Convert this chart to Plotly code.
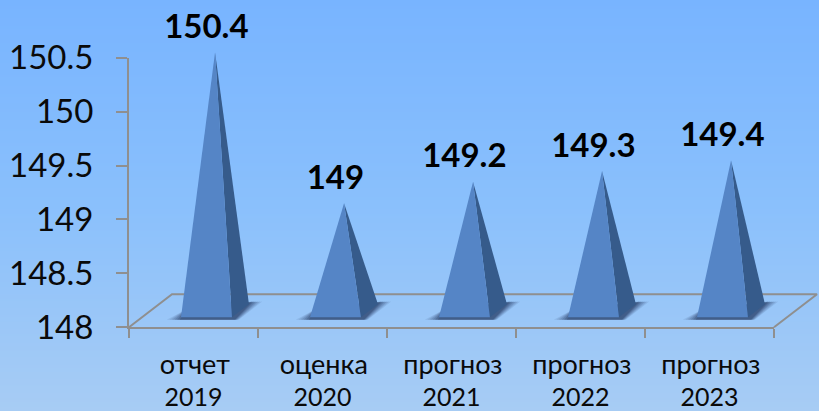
import base64, struct, zlib
import plotly.graph_objects as go

words = ["отчет", "оценка", "прогноз", "прогноз", "прогноз"]
years = ["2019", "2020", "2021", "2022", "2023"]
values = [150.4, 149, 149.2, 149.3, 149.4]
y_ticks = [148, 148.5, 149, 149.5, 150, 150.5]
y_labels = ["148", "148.5", "149", "149.5", "150", "150.5"]

W, H = 819, 411
X0, X1 = 129, 774      # plot frame, px
Y0, Y1 = 327.3, 57.7
FONT = "Lato, 'Open Sans', sans-serif"
AXIS = "#8f8f8f"
TEXT = "#0a0a0a"

# vertical background gradient as a tiny PNG
def lerp(a, b, t):
    return [int(round(a[i] + (b[i] - a[i]) * t)) for i in range(3)]
stops = [(0.0, (120, 180, 255)), (0.5, (138, 192, 252)), (1.0, (167, 204, 244))]
rows = b""
for r in range(H):
    t = r / (H - 1)
    c = lerp(stops[0][1], stops[1][1], t / 0.5) if t < 0.5 else lerp(stops[1][1], stops[2][1], (t - 0.5) / 0.5)
    rows += b"\x00" + bytes(c)
def chunk(tag, data):
    return struct.pack(">I", len(data)) + tag + data + struct.pack(">I", zlib.crc32(tag + data))
png = b"\x89PNG\r\n\x1a\n" + chunk(b"IHDR", struct.pack(">IIBBBBB", 1, H, 8, 2, 0, 0, 0)) + chunk(b"IDAT", zlib.compress(rows)) + chunk(b"IEND", b"")
bg = "data:image/png;base64," + base64.b64encode(png).decode()

px_x = (X1 - X0) / 5           # px per category
px_y = (Y0 - Y1) / 2.5         # px per value unit
overlay_x = [(0 - X0) / px_x, (W - X0) / px_x]
overlay_y = [148 - (H - Y0) / px_y, 148 + Y0 / px_y]

# 3-D projection offsets (category units / value units)
L, R, C, AX = 0.403, 0.798, 0.93, 0.667
FRONT, BACK, LIFT = 0.093, 0.214, 0.15
DX, DY = 1 / 3, 0.307

fig = go.Figure()
ov = dict(xaxis="x2", yaxis="y2", hoverinfo="skip", showlegend=False)

# primary (visible) axes
fig.add_trace(go.Scatter(x=[0, 5], y=[148, 150.5], mode="markers", marker=dict(opacity=0), hoverinfo="skip", showlegend=False))

# floor outline
n = len(values)
fig.add_trace(go.Scatter(x=[0, DX, n + DX, n], y=[148, 148 + DY, 148 + DY, 148], mode="lines",
                         line=dict(color=AXIS, width=2), **ov))

for i, v in enumerate(values):
    # soft shadow
    for grow, alpha in [(0.11, 0.10), (0.09, 0.12), (0.07, 0.15), (0.05, 0.18), (0.03, 0.24), (0.01, 0.28)]:
        fig.add_trace(go.Scatter(
            x=[i + L - grow, i + L + 0.04, i + C + 0.02 + grow * 0.75, i + R + grow * 0.3 + 0.02],
            y=[148 + FRONT - 0.022, 148 + BACK - 0.05, 148 + BACK + 0.025, 148 + FRONT - 0.022],
            fill="toself", mode="none", fillcolor=f"rgba(30,50,90,{alpha})", **ov))
    apex_x, apex_y = i + AX, v + LIFT
    # side face
    fig.add_trace(go.Scatter(x=[i + R, i + C, apex_x, i + R], y=[148 + FRONT, 148 + BACK, apex_y, 148 + FRONT],
                             fill="toself", mode="none", fillcolor="#365b8b", **ov))
    # front face
    fig.add_trace(go.Scatter(x=[i + L, i + R, apex_x, i + L], y=[148 + FRONT, 148 + FRONT, apex_y, 148 + FRONT],
                             fill="toself", mode="none", fillcolor="#5585c6", **ov))

# value labels
fig.add_trace(go.Scatter(x=[i + 0.60 for i in range(n)], y=[v + LIFT + 0.21 for v in values],
                         text=[f"{v:g}" for v in values], mode="text", textposition="middle center",
                         textfont=dict(family=FONT, size=33, color="#000000", weight="bold"), **ov))

# category labels (two lines with the reference's wide leading)
fig.add_trace(go.Scatter(x=[i + 0.51 for i in range(n)], y=[148 - 39.5 / px_y] * n, text=words, mode="text",
                         textposition="middle center", textfont=dict(family=FONT, size=27, color=TEXT), **ov))
fig.add_trace(go.Scatter(x=[i + 0.5 for i in range(n)], y=[148 - 72 / px_y] * n, text=years, mode="text",
                         textposition="middle center", textfont=dict(family=FONT, size=25, color=TEXT), **ov))

fig.update_layout(
    template="none",
    width=W, height=H, margin=dict(l=0, r=0, t=0, b=0, pad=0, autoexpand=False),
    paper_bgcolor="#8ac0fc", plot_bgcolor="rgba(0,0,0,0)", showlegend=False,
    images=[dict(source=bg, xref="paper", yref="paper", x=0, y=1, sizex=1, sizey=1,
                 sizing="stretch", xanchor="left", yanchor="top", layer="below")],
    xaxis=dict(domain=[X0 / W, X1 / W], range=[0, 5], tickvals=list(range(6)), showticklabels=False,
               ticks="outside", ticklen=9, tickwidth=2, tickcolor=AXIS, showgrid=False, zeroline=False,
               showline=True, linecolor=AXIS, linewidth=2, anchor="y", automargin=False),
    yaxis=dict(domain=[(H - Y0) / H, (H - Y1) / H], range=[148, 150.5], tickvals=y_ticks, ticktext=y_labels,
               ticks="outside", ticklen=11, tickwidth=2, tickcolor=AXIS, showgrid=False, zeroline=False,
               showline=True, linecolor=AXIS, linewidth=2, anchor="x", ticklabelstandoff=16, automargin=False,
               tickfont=dict(family=FONT, size=33, color=TEXT)),
    xaxis2=dict(domain=[0, 1], range=overlay_x, visible=False, anchor="y2"),
    yaxis2=dict(domain=[0, 1], range=overlay_y, visible=False, anchor="x2"),
)
fig.write_html("out.html", config={"displayModeBar": False},
               post_script="document.body.style.margin='0';document.documentElement.style.background='#8ac0fc';document.documentElement.style.overflow='hidden';window.dispatchEvent(new Event('resize'));")
